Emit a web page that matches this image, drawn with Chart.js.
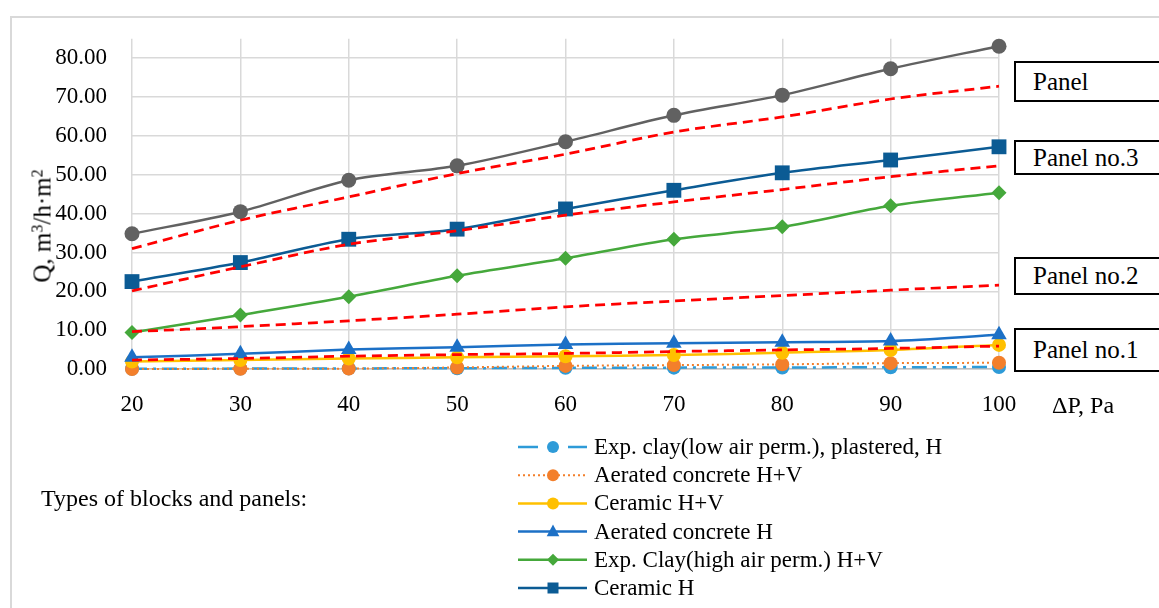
<!DOCTYPE html>
<html>
<head>
<meta charset="utf-8">
<script src="https://cdn.jsdelivr.net/npm/chart.js@4.4.1/dist/chart.umd.min.js"></script>
<style>
html,body{margin:0;padding:0;background:#fff;}
#wrap{position:relative;width:1159px;height:608px;overflow:hidden;background:#fff;}
#frame{position:absolute;left:10px;top:16px;width:1300px;height:800px;border:2px solid #D9D9D9;box-sizing:border-box;}
#c{position:absolute;left:0;top:0;}
.t{position:absolute;font-family:'Liberation Serif',serif;color:#000;white-space:nowrap;line-height:28px;}
.box{position:absolute;left:1014px;width:200px;border:2px solid #000;box-sizing:border-box;background:#fff;
  font-family:'Liberation Serif',serif;font-size:25px;padding-left:17px;display:flex;align-items:center;color:#000;}
#ytitle{position:absolute;left:42px;top:226px;transform:translate(-50%,-50%) rotate(-90deg);
  font-family:'Liberation Serif',serif;font-size:25px;white-space:nowrap;line-height:25px;}
#ytitle sup{font-size:16px;vertical-align:8px;line-height:0;}
</style>
</head>
<body>
<div id="wrap">
  <div id="frame"></div>
  <canvas id="c" width="1159" height="608"></canvas>
  <div id="ytitle">Q, m<sup>3</sup>/h·m<sup>2</sup></div>
  <div class="t" style="left:1052px;top:391px;font-size:24px;">ΔP, Pa</div>
  <div class="t" style="left:41px;top:484px;font-size:24px;">Types of blocks and panels:</div>
  <div class="box" style="top:61px;height:41px;">Panel</div>
  <div class="box" style="top:140px;height:35px;">Panel no.3</div>
  <div class="box" style="top:257px;height:38px;">Panel no.2</div>
  <div class="box" style="top:328px;height:44px;">Panel no.1</div>
</div>
<script>
// ---- data ----
const pressures = ['20','30','40','50','60','70','80','90','100'];
const yTicks = [0,10,20,30,40,50,60,70,80];

const panelMeasured = [34.8, 40.5, 48.6, 52.3, 58.5, 65.3, 70.5, 77.3, 83.1];
const panelModel    = [31.0, 38.3, 44.3, 50.3, 55.3, 61.0, 64.9, 69.5, 72.8];
const ceramicH      = [22.5, 27.4, 33.4, 36.0, 41.2, 46.0, 50.5, 53.8, 57.2];
const panel3Model   = [20.1, 26.3, 32.1, 35.6, 39.6, 43.0, 46.2, 49.5, 52.3];
const expClayHigh   = [9.4, 13.9, 18.6, 24.0, 28.5, 33.4, 36.6, 42.0, 45.4];
const panel2Model   = [9.6, 10.9, 12.4, 14.1, 16.0, 17.5, 18.9, 20.3, 21.6];
const aeratedH      = [3.0, 3.9, 5.0, 5.6, 6.3, 6.6, 6.9, 7.2, 8.8];
const panel1Model   = [2.3, 2.7, 3.3, 3.7, 4.0, 4.5, 4.9, 5.3, 5.9];
const ceramicHV     = [1.9, 2.3, 2.7, 3.0, 3.3, 3.6, 4.2, 4.9, 6.2];
const aeratedHV     = [0.0, 0.05, 0.1, 0.4, 0.8, 1.0, 1.2, 1.5, 1.6];
const expClayLow    = [0.05, 0.1, 0.15, 0.2, 0.3, 0.35, 0.4, 0.45, 0.5];

const legendLabels = [
  'Exp. clay(low air perm.), plastered, H',
  'Aerated concrete H+V',
  'Ceramic H+V',
  'Aerated concrete H',
  'Exp. Clay(high air perm.) H+V',
  'Ceramic H'
];

// ---- styles ----
function series(label, data, color, style, radius, order, extra) {
  return Object.assign({
    label, data, borderColor: color, backgroundColor: color,
    pointBackgroundColor: color, pointBorderColor: color,
    pointStyle: style, pointRadius: radius, pointBorderWidth: 0,
    borderWidth: 2.5, tension: 0.3, order, clip: false
  }, extra || {});
}
function model(label, data) {
  return {
    label, data, borderColor: '#FF0000', borderWidth: 2.75, borderDash: [10, 6],
    pointRadius: 0, tension: 0.3, order: 0, clip: false, fill: false
  };
}

const dsExpLow   = series(legendLabels[0], expClayLow, '#2E9BD8', 'circle', 7, 7, {borderDash: [15, 6, 3, 6]});
const dsAerHV    = series(legendLabels[1], aeratedHV, '#F37F2B', 'circle', 7, 6, {borderDash: [2, 3], borderWidth: 2});
const dsCerHV    = series(legendLabels[2], ceramicHV, '#FFC000', 'circle', 7, 5);
const dsAerH     = series(legendLabels[3], aeratedH, '#1C70C6', 'triangle', 9, 4);
const dsExpHigh  = series(legendLabels[4], expClayHigh, '#45A83B', 'rectRot', 7.5, 3);
const dsCerH     = series(legendLabels[5], ceramicH, '#0B5B94', 'rect', 10.5, 2);
const dsPanel    = series('Panel', panelMeasured, '#616161', 'circle', 7.5, 1);

const legendSets = [dsExpLow, dsAerHV, dsCerHV, dsAerH, dsExpHigh, dsCerH];

function drawMarker(ctx, style, x, y, r, color) {
  ctx.save();
  ctx.fillStyle = color;
  ctx.setLineDash([]);
  ctx.beginPath();
  if (style === 'circle') {
    ctx.arc(x, y, r, 0, Math.PI * 2);
  } else if (style === 'rect') {
    ctx.rect(x - r, y - r, 2 * r, 2 * r);
  } else if (style === 'rectRot') {
    ctx.moveTo(x, y - r); ctx.lineTo(x + r, y); ctx.lineTo(x, y + r); ctx.lineTo(x - r, y); ctx.closePath();
  } else if (style === 'triangle') {
    ctx.moveTo(x, y - r); ctx.lineTo(x + r * 0.9, y + r * 0.65); ctx.lineTo(x - r * 0.9, y + r * 0.65); ctx.closePath();
  }
  ctx.fill();
  ctx.restore();
}

const legendPlugin = {
  id: 'columnLegend',
  afterDraw(chart) {
    const ctx = chart.ctx;
    const sizes = {circle: 6, rect: 5.5, rectRot: 6, triangle: 7};
    legendSets.forEach((ds, i) => {
      const y = 447 + i * 28.2;
      ctx.save();
      ctx.strokeStyle = ds.borderColor;
      ctx.lineWidth = ds.borderWidth;
      ctx.setLineDash(ds.borderDash || []);
      ctx.beginPath();
      if (i === 0) {
        ctx.setLineDash([]);
        ctx.moveTo(518, y); ctx.lineTo(538, y);
        ctx.moveTo(568, y); ctx.lineTo(587, y);
      } else {
        ctx.moveTo(518, y); ctx.lineTo(587, y);
      }
      ctx.stroke();
      ctx.restore();
      drawMarker(ctx, ds.pointStyle, 553, y, sizes[ds.pointStyle], ds.borderColor);
      ctx.save();
      ctx.fillStyle = '#000';
      ctx.font = '23px "Liberation Serif", serif';
      ctx.textBaseline = 'middle';
      ctx.textAlign = 'left';
      ctx.fillText(ds.label, 594, y + 1);
      ctx.restore();
    });
  }
};

new Chart(document.getElementById('c'), {
  type: 'line',
  data: {
    labels: pressures,
    datasets: [
      model('Panel model', panelModel),
      model('Panel no.3 model', panel3Model),
      model('Panel no.2 model', panel2Model),
      model('Panel no.1 model', panel1Model),
      dsPanel, dsCerH, dsExpHigh, dsAerH, dsCerHV, dsAerHV, dsExpLow
    ]
  },
  options: {
    responsive: false,
    animation: false,
    events: [],
    devicePixelRatio: 1,
    layout: {padding: {top: 38, right: 160, left: 0, bottom: 0}},
    plugins: {legend: {display: false}, tooltip: {enabled: false}, title: {display: false}},
    scales: {
      x: {
        type: 'category',
        offset: false,
        grid: {color: '#D9D9D9', lineWidth: 1.5, drawTicks: false},
        border: {display: true, color: '#BFBFBF', width: 1.5},
        ticks: {color: '#000', padding: 22, font: {family: '"Liberation Serif", serif', size: 23}, maxRotation: 0, autoSkip: false},
        afterFit: s => { s.height = 239; }
      },
      y: {
        min: 0, max: 85,
        grid: {color: '#D9D9D9', lineWidth: 1.5, drawTicks: false},
        border: {display: false},
        afterBuildTicks: s => { s.ticks = yTicks.map(v => ({value: v})); },
        ticks: {color: '#000', padding: 25, font: {family: '"Liberation Serif", serif', size: 23},
                callback: v => Number(v).toFixed(2)},
        afterFit: s => { s.width = 132; }
      }
    }
  },
  plugins: [legendPlugin]
});
</script>
</body>
</html>
